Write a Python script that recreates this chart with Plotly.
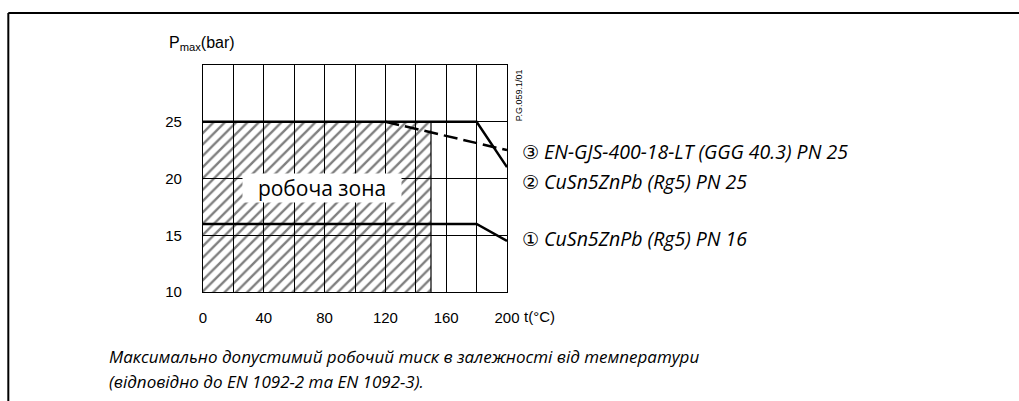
import plotly.graph_objects as go

# ---- data ----
x_grid = [0, 20, 40, 60, 80, 100, 120, 140, 160, 180, 200]
x_labels = ["0", "", "40", "", "80", "", "120", "", "160", "", "200"]
y_grid = [10, 15, 20, 25, 30]
y_labels = ["10", "15", "20", "25", ""]

zone_x = [0, 150, 150, 0, 0]
zone_y = [10, 10, 25, 25, 10]

s1_t = [0, 180, 200]
s1_p = [16, 16, 14.5]
s2_t = [0, 180, 200]
s2_p = [25, 25, 21]
s3_t = [120, 200]
s3_p = [25, 22.5]

label_nums = ["①", "②", "③"]
label_texts = ["CuSn5ZnPb (Rg5) PN 16", "CuSn5ZnPb (Rg5) PN 25",
               "EN-GJS-400-18-LT (GGG 40.3) PN 25"]
zone_label = "робоча зона"
caption1 = "Максимально допустимий робочий тиск в залежності від температури"
caption2 = "(відповідно до EN 1092-2 та EN 1092-3)."
code_label = "P.G.059.1/01"

fig = go.Figure()

fig.add_trace(go.Scatter(
    x=zone_x, y=zone_y, mode="lines", fill="toself",
    line=dict(width=0, color="rgba(0,0,0,0)"),
    fillcolor="rgba(0,0,0,0)",
    fillpattern=dict(shape="/", fgcolor="black", bgcolor="rgba(0,0,0,0)",
                     size=8, solidity=0.3),
    hoverinfo="skip", showlegend=False))

fig.add_trace(go.Scatter(x=[150, 150], y=[10, 25], mode="lines",
                         line=dict(color="black", width=1.2),
                         showlegend=False, hoverinfo="skip"))

fig.add_trace(go.Scatter(x=s3_t, y=s3_p, mode="lines",
                         line=dict(color="black", width=2.5, dash="14px,6px"),
                         showlegend=False))
fig.add_trace(go.Scatter(x=s1_t, y=s1_p, mode="lines",
                         line=dict(color="black", width=2.5),
                         showlegend=False))
fig.add_trace(go.Scatter(x=s2_t, y=s2_p, mode="lines",
                         line=dict(color="black", width=2.5),
                         showlegend=False))

tickfont = dict(family="Liberation Sans, Arial", size=15, color="black")
itfont = dict(family="Open Sans", size=17, color="black", style="italic")
lblfont = dict(family="Open Sans", size=19.5, color="black", style="italic")

fig.update_xaxes(range=[0, 200], tickvals=x_grid, ticktext=x_labels,
                 showgrid=True, gridcolor="black", gridwidth=1,
                 showline=True, linecolor="black", linewidth=1.2, mirror=True,
                 zeroline=False, ticks="", tickfont=tickfont, ticklabelstandoff=12)
fig.update_yaxes(range=[10, 30], tickvals=y_grid, ticktext=y_labels,
                 showgrid=True, gridcolor="black", gridwidth=1,
                 showline=True, linecolor="black", linewidth=1.2, mirror=True,
                 zeroline=False, ticks="", tickfont=tickfont, ticklabelstandoff=17)

W, H = 1019, 401
L, R, T, B = 203.3, 506.7, 65, 291.7


def px2paper(px, py):
    return (px - L) / (R - L), (B - py) / (B - T)


ann = []
zx, zy = px2paper(322, 188)
ann.append(dict(x=zx, y=zy, text=zone_label, showarrow=False,
                font=dict(family="Open Sans", size=21, color="black"),
                bgcolor="white", borderpad=0, width=158, height=28))
for num, txt, py in zip(label_nums, label_texts, [238, 181, 151]):
    ax, ay = px2paper(520, py)
    ann.append(dict(x=ax, y=ay,
                    text=('<span style="font-family:DejaVu Sans;font-style:normal;'
                          'font-size:19px">' + num + '</span> ' + txt),
                    showarrow=False, xanchor="left", yanchor="middle", font=lblfont))
ax, ay = px2paper(167, 44)
ann.append(dict(x=ax, y=ay, text="P<sub>max</sub>(bar)", showarrow=False,
                xanchor="left", yanchor="middle",
                font=dict(family="Liberation Sans, Arial", size=16, color="black")))
ax, ay = px2paper(522, 316)
ann.append(dict(x=ax, y=ay, text="t(°C)", showarrow=False, xanchor="left",
                yanchor="middle", font=tickfont))
ax, ay = px2paper(519, 95)
ann.append(dict(x=ax, y=ay, text=code_label, showarrow=False, textangle=-90,
                xanchor="center", yanchor="middle",
                font=dict(family="Liberation Sans, Arial", size=9, color="black")))
ax, ay = px2paper(107, 356)
ann.append(dict(x=ax, y=ay, text=caption1, showarrow=False, xanchor="left",
                yanchor="middle", font=itfont))
ax, ay = px2paper(107, 381)
ann.append(dict(x=ax, y=ay, text=caption2, showarrow=False, xanchor="left",
                yanchor="middle", font=itfont))
for a in ann:
    a["xref"] = "paper"
    a["yref"] = "paper"

x0, y0 = px2paper(9, 13)
x1, y1 = px2paper(1019, 401)
shapes = [
    dict(type="line", xref="paper", yref="paper", x0=x0, x1=x1, y0=y0, y1=y0,
         line=dict(color="black", width=2)),
    dict(type="line", xref="paper", yref="paper", x0=x0, x1=x0, y0=y0, y1=y1,
         line=dict(color="black", width=2)),
]

fig.update_layout(
    width=W, height=H,
    margin=dict(l=L, r=W - R, t=T, b=H - B, pad=0),
    paper_bgcolor="white", plot_bgcolor="white",
    annotations=ann, shapes=shapes, showlegend=False,
)

fig.write_html("out.html", config={"displayModeBar": False},
               post_script="document.body.style.margin='0';document.body.style.padding='0';")
